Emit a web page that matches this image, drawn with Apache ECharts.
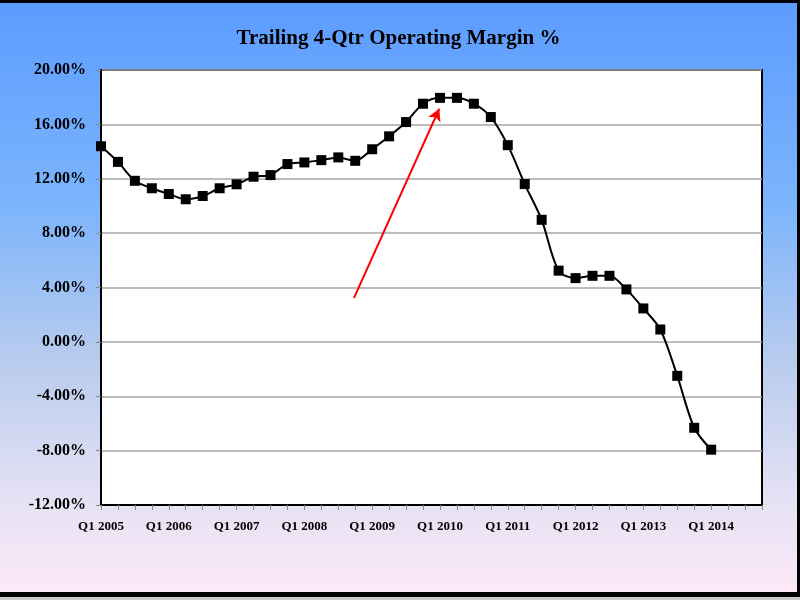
<!DOCTYPE html>
<html>
<head>
<meta charset="utf-8">
<script src="https://cdn.jsdelivr.net/npm/echarts@6/dist/echarts.min.js"></script>
<style>
  html, body { margin: 0; padding: 0; background: #c8c8c8; }
  #frame { position: absolute; left: 0; top: 0; width: 800px; height: 597px; background: #000; }
  #chart { position: absolute; left: 0; top: 3px; width: 797px; height: 589px; }
</style>
</head>
<body>
<div id="frame"><div id="chart"></div></div>
<script>
// Categories: quarters Q1 2005 .. Q4 2014
var years = [2005, 2006, 2007, 2008, 2009, 2010, 2011, 2012, 2013, 2014];
var quarters = ['Q1', 'Q2', 'Q3', 'Q4'];
var categories = [];
years.forEach(function (y) { quarters.forEach(function (q) { categories.push(q + ' ' + y); }); });

// Trailing 4-quarter operating margin (%), Q1 2005 .. Q1 2014
var marginValues = [
  14.39, 13.24, 11.85, 11.30, 10.88, 10.49, 10.73, 11.30,
  11.59, 12.15, 12.27, 13.08, 13.20, 13.37, 13.57, 13.32,
  14.17, 15.12, 16.17, 17.52, 17.95, 17.95, 17.52, 16.54,
  14.47, 11.61, 8.98, 5.24, 4.69, 4.86, 4.86, 3.86,
  2.46, 0.91, -2.50, -6.32, -7.93
];

// Y axis ticks
var yMin = -12, yMax = 20, yStep = 4;

// Red arrow annotation (quarter index, value)
var arrowFrom = [14.93, 3.24];
var arrowTo = [19.96, 17.15];

var chart = echarts.init(document.getElementById('chart'), null, { renderer: 'canvas' });

var serif = 'Liberation Serif, Times New Roman, serif';

chart.setOption({
  animation: false,
  backgroundColor: {
    type: 'linear', x: 0, y: 0, x2: 0, y2: 1,
    colorStops: [
      { offset: 0, color: '#5b9cff' },
      { offset: 0.35, color: '#7db5fc' },
      { offset: 0.6, color: '#b7cbee' },
      { offset: 0.85, color: '#e6e2f4' },
      { offset: 1, color: '#fce8f7' }
    ]
  },
  title: {
    text: 'Trailing 4-Qtr Operating Margin %',
    left: 'center',
    top: 20,
    textStyle: { fontFamily: serif, fontWeight: 'bold', fontSize: 21, color: '#000' }
  },
  grid: {
    left: 101, right: 35, top: 67, bottom: 87,
    show: true, backgroundColor: '#fff', borderColor: '#000', borderWidth: 2
  },
  xAxis: [{
    type: 'category',
    data: categories,
    boundaryGap: false,
    axisLine: { onZero: false, lineStyle: { color: '#000', width: 2 } },
    axisTick: { show: true, interval: 0, length: 5, lineStyle: { color: '#888' } },
    axisLabel: {
      interval: 3, margin: 15, color: '#000',
      fontFamily: serif, fontWeight: 'bold', fontSize: 13
    },
    splitLine: { show: false }
  }, {
    type: 'value', min: 0, max: categories.length - 1, show: false
  }],
  yAxis: {
    type: 'value',
    min: yMin, max: yMax, interval: yStep,
    axisLine: { show: true, lineStyle: { color: '#000', width: 2 } },
    axisTick: { show: true, length: 5, lineStyle: { color: '#888' } },
    axisLabel: {
      margin: 15, color: '#000',
      fontFamily: serif, fontWeight: 'bold', fontSize: 16,
      formatter: function (v) { return v.toFixed(2) + '%'; }
    },
    splitLine: { show: true, lineStyle: { color: '#a6a6a6', width: 1.5 } }
  },
  series: [{
    type: 'line',
    data: marginValues,
    smooth: 0.3,
    symbol: 'rect',
    symbolSize: 10,
    showSymbol: true,
    lineStyle: { color: '#000', width: 2 },
    itemStyle: { color: '#000' },
    z: 3
  }, {
    type: 'line',
    xAxisIndex: 1,
    data: [],
    silent: true,
    markLine: {
      silent: true,
      symbol: ['none', 'arrow'],
      symbolSize: [10, 12],
      label: { show: false },
      lineStyle: { color: '#ff0000', width: 2, type: 'solid' },
      data: [[{ coord: arrowFrom }, { coord: arrowTo }]]
    },
    z: 4
  }]
});
</script>
</body>
</html>
